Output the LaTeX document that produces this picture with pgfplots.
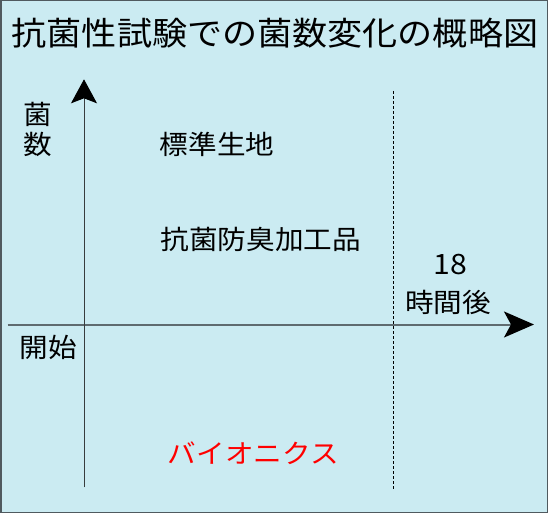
\documentclass[border=0pt]{standalone}
\usepackage{fontspec}
\setmainfont{Noto Sans CJK JP}[FakeStretch=1.08]
\usepackage{pgfplots}
\pgfplotsset{compat=1.18}
\usetikzlibrary{arrows.meta}

\definecolor{bgcyan}{RGB}{203,235,242}
\definecolor{frame}{RGB}{80,90,95}
\definecolor{xline}{RGB}{95,107,112}
\definecolor{yline}{RGB}{55,60,62}

\newcommand{\ttl}{\fontsize{32.5bp}{32.5bp}\selectfont}
\newcommand{\lbl}{\fontsize{26.5bp}{26.5bp}\selectfont}

\begin{document}
\begin{tikzpicture}
\begin{axis}[
  width=548bp, height=513bp, scale only axis,
  xmin=0, xmax=548, ymin=0, ymax=513, y dir=reverse,
  hide axis, clip=false,
]
% background and frame (pixel units)
\addplot[draw=frame, line width=1.5bp, fill=bgcyan]
  coordinates {(0.75,0.75) (547.25,0.75) (547.25,512.25) (0.75,512.25)} -- cycle;

% time axis: start -> 18 h
\addplot[draw=xline, line width=2bp,
  arrows={-Stealth[length=30bp,width=26bp,inset=7bp,black]}]
  coordinates {(7.7,324.5) (534,324.5)};
% bacteria count axis
\addplot[draw=yline, line width=1bp,
  arrows={-Stealth[length=24bp,width=26bp,inset=5bp,black]}]
  coordinates {(84,487.3) (84,79.3)};
% 18 hours marker
\addplot[black, line width=0.8bp, dash pattern=on 3bp off 2bp]
  coordinates {(393.3,91) (393.3,489.3)};

\node[inner sep=0] at (axis cs:275,33.3) {\ttl 抗菌性試験での菌数変化の概略図};
\node[inner sep=0] at (axis cs:38,114) {\lbl 菌};
\node[inner sep=0] at (axis cs:38,144.5) {\lbl 数};
\node[inner sep=0] at (axis cs:48,347) {\lbl 開始};
\node[inner sep=0] at (axis cs:217,144.7) {\lbl 標準生地};
\node[inner sep=0] at (axis cs:260.7,239) {\lbl 抗菌防臭加工品};
\node[inner sep=0] at (axis cs:450.7,265) {\fontsize{28bp}{28bp}\selectfont 18};
\node[inner sep=0] at (axis cs:448,302) {\lbl 時間後};
\node[inner sep=0, text=red] at (axis cs:253.4,453) {\lbl バイオニクス};
\end{axis}
\end{tikzpicture}
\end{document}
